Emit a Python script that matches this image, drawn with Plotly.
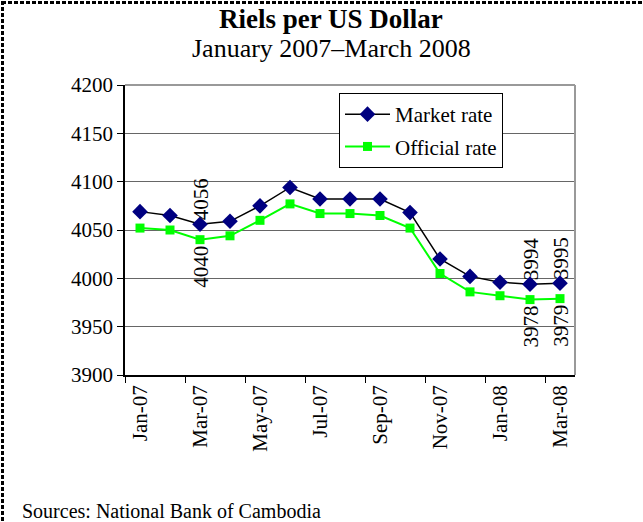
import plotly.graph_objects as go

months = ["Jan-07", "Feb-07", "Mar-07", "Apr-07", "May-07", "Jun-07", "Jul-07",
          "Aug-07", "Sep-07", "Oct-07", "Nov-07", "Dec-07", "Jan-08", "Feb-08", "Mar-08"]
market_rate = [4069, 4065, 4056, 4059, 4075, 4094, 4082, 4082, 4082, 4068, 4020, 4002, 3996, 3994, 3995]
official_rate = [4052, 4050, 4040, 4044, 4060, 4077, 4067, 4067, 4065, 4052, 4005, 3986, 3982, 3978, 3979]
labeled_months = ["Mar-07", "Feb-08", "Mar-08"]
y_ticks = [3900, 3950, 4000, 4050, 4100, 4150, 4200]

FONT = "Liberation Serif"
W, H = 643, 522
L, R, T, B = 125, 68, 85, 147
PW, PH = W - L - R, H - T - B


def px_x(p):
    return (p - L) / PW


def px_y(p):
    return (H - B - p) / PH


xs = list(range(len(months)))

fig = go.Figure()
fig.add_trace(go.Scatter(
    x=xs, y=market_rate, name="Market rate", mode="lines+markers",
    line=dict(color="black", width=1.5),
    marker=dict(symbol="diamond", color="#000080", size=12),
    legendgroup="a",
))
fig.add_trace(go.Scatter(
    x=xs, y=official_rate, name="Official rate", mode="lines+markers",
    line=dict(color="#00FF00", width=2),
    marker=dict(symbol="square", color="#00FF00", size=9),
    legendgroup="b",
))

annotations = []
for m in labeled_months:
    i = months.index(m)
    annotations.append(dict(x=xs[i], y=market_rate[i], xref="x", yref="y",
                            text=str(market_rate[i]), textangle=-90, showarrow=False,
                            xanchor="center", yanchor="middle", yshift=25, xshift=1,
                            font=dict(family=FONT, size=21, color="black")))
    annotations.append(dict(x=xs[i], y=official_rate[i], xref="x", yref="y",
                            text=str(official_rate[i]), textangle=-90, showarrow=False,
                            xanchor="center", yanchor="middle", yshift=-27, xshift=1,
                            font=dict(family=FONT, size=21, color="black")))

annotations += [
    dict(x=px_x(331), y=px_y(19), xref="paper", yref="paper", showarrow=False,
         text="<b>Riels per US Dollar</b>", xanchor="center", yanchor="middle",
         font=dict(family=FONT, size=27, color="black")),
    dict(x=px_x(331), y=px_y(48), xref="paper", yref="paper", showarrow=False,
         text="January 2007–March 2008", xanchor="center", yanchor="middle",
         font=dict(family=FONT, size=26, color="black")),
    dict(x=px_x(20), y=px_y(511), xref="paper", yref="paper", showarrow=False,
         text="Sources: National Bank of Cambodia", xanchor="left", yanchor="middle",
         font=dict(family=FONT, size=20, color="black")),
]

shapes = [
    dict(type="line", xref="paper", yref="paper", x0=0, x1=1, y0=1, y1=1,
         line=dict(color="#999999", width=2)),
    dict(type="line", xref="paper", yref="paper", x0=1, x1=1, y0=0, y1=1,
         line=dict(color="#999999", width=2)),
    dict(type="line", xref="paper", yref="paper", x0=px_x(2), x1=px_x(660), y0=px_y(2.5), y1=px_y(2.5),
         line=dict(color="black", width=3, dash="4px,2px")),
    dict(type="line", xref="paper", yref="paper", x0=px_x(2.5), x1=px_x(2.5), y0=px_y(1), y1=px_y(540),
         line=dict(color="black", width=3, dash="4px,2px")),
]

fig.update_layout(
    width=W, height=H,
    margin=dict(l=L, r=R, t=T, b=B, pad=0),
    paper_bgcolor="white", plot_bgcolor="white",
    font=dict(family=FONT, size=21, color="black"),
    showlegend=True,
    legend=dict(x=px_x(339), y=px_y(93), xanchor="left", yanchor="top",
                bordercolor="black", borderwidth=1, bgcolor="white",
                font=dict(family=FONT, size=21, color="black"),
                itemwidth=45,
                traceorder="grouped", tracegroupgap=2),
    annotations=annotations,
    shapes=shapes,
)

fig.update_xaxes(
    range=[-0.5, len(months) - 0.5],
    tickvals=xs[::2], ticktext=months[::2], tickangle=-90,
    ticks="", showgrid=False, zeroline=False,
    showline=True, linecolor="black", linewidth=1.5,
    tickfont=dict(family=FONT, size=21, color="black"),
    minor=dict(tick0=-0.5, dtick=2, ticks="outside", ticklen=6, tickcolor="black", showgrid=False),
)
fig.update_yaxes(
    range=[y_ticks[0], y_ticks[-1]], tickvals=y_ticks,
    ticks="outside", ticklen=6, tickcolor="black",
    showgrid=True, gridcolor="#666666", gridwidth=1, zeroline=False,
    showline=True, linecolor="black", linewidth=1.5,
    tickfont=dict(family=FONT, size=21, color="black"),
)

fig.write_html("out.html", config={"displayModeBar": False},
               post_script="document.body.style.margin='0';document.body.style.overflow='hidden';")
